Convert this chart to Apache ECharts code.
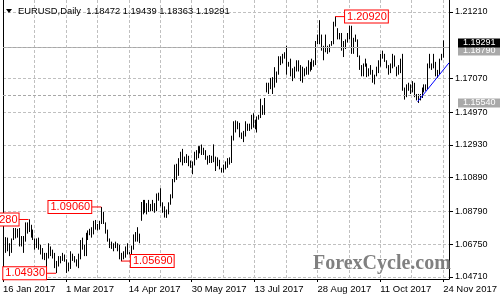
<!DOCTYPE html>
<html><head><meta charset="utf-8">
<script src="https://cdn.jsdelivr.net/npm/echarts@6/dist/echarts.min.js"></script>
<style>html,body{margin:0;padding:0;background:#fff}#c{width:500px;height:300px}</style>
</head><body><div id="c"></div>
<script>
// Daily bars from 16 Jan 2017 to 24 Nov 2017 (one per trading day)
const highs = [
1.0640,1.0718,1.0715,1.0680,1.0710, 1.0775,1.0775,1.0770,1.0775,1.0725,
1.0725,1.0810,1.0810,1.0829,1.0795, 1.0765,1.0710,1.0710,1.0715,1.0670,
1.0650,1.0620,1.0620,1.0680,1.0660, 1.0640,1.0620,1.0570,1.0600,1.0600,
1.0620,1.0610,1.0580,1.0560,1.0630, 1.0615,1.0600,1.0580,1.0615,1.0700,
1.0715,1.0670,1.0745,1.0760,1.0770, 1.0780,1.0820,1.0825,1.0800,1.0820,
1.0906,1.0875,1.0810,1.0765,1.0710, 1.0690,1.0680,1.0690,1.0680,1.0670,
1.0620,1.0630,1.0660,1.0680,1.0625, 1.0665,1.0735,1.0750,1.0780,1.0740,
1.0937,1.0950,1.0950,1.0930,1.0950, 1.0925,1.0950,1.0930,1.0990,1.0995,
1.1023,1.0935,1.0910,1.0890,1.0935, 1.0985,1.1080,1.1170,1.1175,1.1210,
1.1250,1.1268,1.1220,1.1235,1.1225, 1.1195,1.1190,1.1250,1.1260,1.1285,
1.1285,1.1295,1.1275,1.1260,1.1225, 1.1230,1.1225,1.1296,1.1220,1.1215,
1.1200,1.1150,1.1170,1.1190,1.1210, 1.1215,1.1350,1.1440,1.1445,1.1440,
1.1430,1.1370,1.1380,1.1440,1.1425, 1.1425,1.1480,1.1490,1.1450,1.1470,
1.1480,1.1580,1.1540,1.1585,1.1680, 1.1680,1.1710,1.1715,1.1777,1.1750,
1.1845,1.1845,1.1860,1.1870,1.1910, 1.1810,1.1830,1.1770,1.1780,1.1820,
1.1820,1.1790,1.1780,1.1770,1.1780, 1.1820,1.1810,1.1830,1.1820,1.1940,
1.1980,1.2070,1.1980,1.1910,1.1980, 1.1910,1.1920,1.1940,1.2060,1.2092,
1.2020,1.1990,1.1990,1.1940,1.1950, 1.1990,1.2035,1.2035,1.1960,1.1980,
1.1950,1.1850,1.1790,1.1800,1.1830, 1.1800,1.1770,1.1790,1.1760,1.1730,
1.1780,1.1820,1.1860,1.1880,1.1860, 1.1820,1.1790,1.1800,1.1860,1.1850,
1.1780,1.1790,1.1830,1.1860,1.1650, 1.1670,1.1680,1.1670,1.1690,1.1680,
1.1610,1.1610,1.1610,1.1650,1.1670, 1.1670,1.1800,1.1860,1.1800,1.1860,
1.1810,1.1760,1.1830,1.1860,1.19439
];
const lows = [
1.0575,1.0620,1.0630,1.0600,1.0620, 1.0700,1.0710,1.0715,1.0660,1.0660,
1.0620,1.0690,1.0740,1.0750,1.0715, 1.0700,1.0640,1.0650,1.0640,1.0610,
1.0580,1.0575,1.0520,1.0585,1.0600, 1.0585,1.0525,1.0494,1.0535,1.0555,
1.0570,1.0565,1.0495,1.0505,1.0520, 1.0570,1.0560,1.0535,1.0525,1.0580,
1.0640,1.0600,1.0600,1.0700,1.0730, 1.0715,1.0735,1.0765,1.0760,1.0765,
1.0800,1.0800,1.0740,1.0690,1.0650, 1.0645,1.0630,1.0650,1.0630,1.0580,
1.0569,1.0580,1.0590,1.0610,1.0610, 1.0600,1.0640,1.0690,1.0690,1.0680,
1.0820,1.0860,1.0870,1.0860,1.0875, 1.0880,1.0880,1.0870,1.0880,1.0945,
1.0910,1.0870,1.0840,1.0838,1.0860, 1.0920,1.0960,1.1060,1.1075,1.1100,
1.1185,1.1165,1.1180,1.1180,1.1160, 1.1150,1.1110,1.1165,1.1200,1.1210,
1.1240,1.1230,1.1230,1.1200,1.1170, 1.1180,1.1180,1.1185,1.1130,1.1160,
1.1140,1.1120,1.1120,1.1140,1.1150, 1.1170,1.1180,1.1320,1.1370,1.1390,
1.1340,1.1330,1.1310,1.1345,1.1380, 1.1380,1.1390,1.1400,1.1390,1.1370,
1.1450,1.1460,1.1480,1.1480,1.1620, 1.1610,1.1640,1.1610,1.1650,1.1680,
1.1730,1.1790,1.1800,1.1830,1.1730, 1.1780,1.1720,1.1690,1.1710,1.1750,
1.1750,1.1690,1.1680,1.1720,1.1730, 1.1730,1.1750,1.1760,1.1780,1.1790,
1.1920,1.1920,1.1880,1.1820,1.1870, 1.1860,1.1870,1.1910,1.1920,1.2030,
1.1950,1.1950,1.1880,1.1840,1.1890, 1.1930,1.1950,1.1860,1.1860,1.1935,
1.1840,1.1760,1.1720,1.1720,1.1780, 1.1715,1.1720,1.1730,1.1680,1.1670,
1.1720,1.1740,1.1780,1.1830,1.1810, 1.1770,1.1730,1.1740,1.1770,1.1780,
1.1720,1.1730,1.1740,1.1630,1.1575, 1.1590,1.1630,1.1610,1.1620,1.1590,
1.1570,1.1554,1.1570,1.1585,1.1620, 1.1630,1.1640,1.1770,1.1760,1.1770,
1.1720,1.1710,1.1730,1.1820,1.18363
];
const emptySlots = 3; // empty space to the right of the last bar
const xTickLabels = ['16 Jan 2017','1 Mar 2017','14 Apr 2017','30 May 2017','13 Jul 2017','28 Aug 2017','11 Oct 2017','24 Nov 2017'];
const yTickValues = [1.04710,1.06750,1.08790,1.10890,1.12930,1.14970,1.17070,1.21210];
const lastPrice = 1.19291;
const levelLines = [1.18790, 1.15540];
const titleText = 'EURUSD,Daily  1.18472 1.19439 1.18363 1.19291';
const annotations = [
  {k:169, price:1.2092, text:'1.20920', side:'right'},
  {k:50,  price:1.0906, text:'1.09060', side:'left'},
  {k:13,  price:1.0828, text:'1.08280', side:'left'},
  {k:27,  price:1.0493, text:'1.04930', side:'left'},
  {k:60,  price:1.0569, text:'1.05690', side:'right'}
];
const trendLine = [[211, 1.1562], [227, 1.1804]];

const n = highs.length + emptySlots;
const cats = [];
for (let i = 0; i < n; i++) cats.push(String(i));
const FONT = '"Liberation Sans", Arial, sans-serif';
const GRID = '#c0c0c0';

const chart = echarts.init(document.getElementById('c'), null, {renderer:'canvas', width:500, height:300});
const option = {
  animation: false,
  backgroundColor: '#fff',
  grid: {left: 3, right: 43, top: 0, bottom: 21, containLabel: false},
  xAxis: {
    type: 'category', data: cats, boundaryGap: false,
    axisLine: {show: true, lineStyle: {color: '#000', width: 1}},
    axisTick: {show: true, interval: 31, length: 3, lineStyle: {color: '#000'}},
    axisLabel: {show: true, interval: 31, align: 'left', margin: 5, fontSize: 9.5, fontFamily: FONT, color: '#000',
      formatter: (v, i) => xTickLabels[Math.round(i / 32)] || ''},
    splitLine: {show: true, interval: 15, lineStyle: {color: GRID, width: 1, type: [3, 2]}}
  },
  yAxis: [{
    type: 'value', position: 'right', min: 1.04573, max: 1.21955,
    axisLine: {show: true, lineStyle: {color: '#000', width: 1}},
    axisTick: {show: true, customValues: yTickValues, length: 4, lineStyle: {color: '#000'}},
    axisLabel: {show: true, customValues: yTickValues, margin: 6, fontSize: 9, fontFamily: FONT, color: '#000',
      formatter: v => v.toFixed(5)},
    splitLine: {show: true, lineStyle: {color: GRID, width: 1, type: [3, 2]}}
  }, {
    type: 'value', position: 'left', min: 1.04573, max: 1.21955,
    axisLine: {show: true, lineStyle: {color: '#000', width: 1}},
    axisTick: {show: false}, axisLabel: {show: false}, splitLine: {show: false}
  }],
  series: [{
    type: 'custom', silent: true, clip: true,
    data: highs.map((h, i) => [i, lows[i], h]),
    encode: {x: 0, y: [1, 2]},
    renderItem: (params, api) => {
      const lo = api.coord([api.value(0), api.value(1)]);
      const hi = api.coord([api.value(0), api.value(2)]);
      const x = Math.round(lo[0]) + 0.5;
      return {type: 'line', shape: {x1: x, y1: lo[1], x2: x, y2: hi[1]}, style: {stroke: '#000', lineWidth: 1}};
    },
    markLine: {
      silent: true, symbol: ['none', 'none'], animation: false,
      label: {show: false},
      data: [
        {yAxis: lastPrice, lineStyle: {color: '#b8b8b8', type: 'solid', width: 1}},
        ...levelLines.map(v => ({yAxis: v, lineStyle: {color: '#a8a8a8', type: [3, 2], width: 1}})),
        [{coord: trendLine[0], lineStyle: {color: '#0000ff', width: 1, type: 'solid'}},
         {coord: trendLine[1]}]
      ]
    }
  }]
};
chart.setOption(option);

const graphics = [];
annotations.forEach(a => {
  const p = chart.convertToPixel({gridIndex: 0}, [a.k, a.price]);
  const dir = a.side === 'right' ? 1 : -1;
  const ex = p[0] + dir * 10;
  graphics.push({type: 'line', silent: true, z: 50,
    shape: {x1: p[0], y1: p[1], x2: ex, y2: p[1]}, style: {stroke: '#ff0000', lineWidth: 1}});
  graphics.push({type: 'text', silent: true, z: 51, x: ex, y: p[1],
    style: {text: a.text, fill: '#ff0000', font: '11px ' + FONT, align: a.side === 'right' ? 'left' : 'right',
      verticalAlign: 'middle', backgroundColor: '#fff', borderColor: '#ff0000', borderWidth: 1, padding: [1, 1, 0, 2]}});
});
// price boxes on the right axis
const priceBoxes = [
  {v: levelLines[0], bg: '#a9a9a9', z: 60},
  {v: levelLines[1], bg: '#a9a9a9', z: 60},
  {v: lastPrice, bg: '#000000', z: 61}
];
priceBoxes.forEach(b => {
  const y = chart.convertToPixel({yAxisIndex: 0}, b.v);
  graphics.push({type: 'rect', silent: true, z: b.z, shape: {x: 458, y: Math.round(y) - 4.5, width: 42, height: 9},
    style: {fill: b.bg}});
  graphics.push({type: 'text', silent: true, z: b.z + 0.5, x: 463, y: Math.round(y),
    style: {text: b.v.toFixed(5), fill: '#fff', font: '9px ' + FONT, verticalAlign: 'middle', align: 'left'}});
});
graphics.push({type: 'polygon', silent: true, z: 50, shape: {points: [[6, 9], [12, 9], [9, 13]]}, style: {fill: '#000'}});
graphics.push({type: 'text', silent: true, z: 50, x: 18, y: 11,
  style: {text: titleText, fill: '#000', font: '9.4px ' + FONT, verticalAlign: 'middle', align: 'left'}});
graphics.push({type: 'text', silent: true, z: 40, x: 313, y: 264,
  style: {text: 'ForexCycle.com', fill: '#808080', font: 'bold 20px "Liberation Serif", "Times New Roman", serif',
    verticalAlign: 'middle', align: 'left'}});
chart.setOption({graphic: graphics});
</script>
</body></html>
